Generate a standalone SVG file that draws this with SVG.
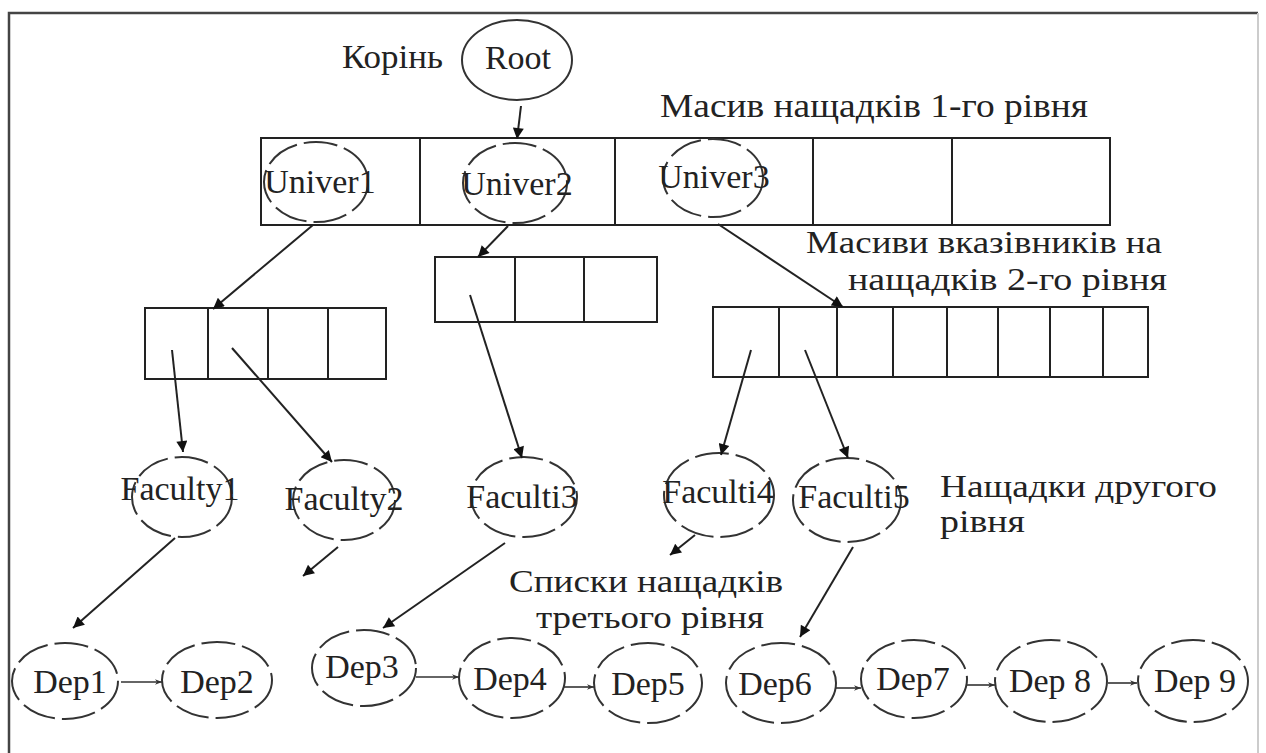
<svg xmlns="http://www.w3.org/2000/svg" width="1266" height="753" viewBox="0 0 1266 753">
<style>
text{font-family:"Liberation Serif","Times New Roman",serif;font-size:34px;fill:#222}
.lbl{text-anchor:middle}
.sm{font-size:31px}
.cell{fill:none;stroke:#222;stroke-width:2}
.solid{fill:none;stroke:#333;stroke-width:2}
.dash{fill:none;stroke:#333;stroke-width:2;stroke-dasharray:34 7}
.con{fill:none;stroke:#222;stroke-width:2;marker-end:url(#ah)}
.lnk{fill:none;stroke:#333;stroke-width:1.6;marker-end:url(#sh)}
</style>
<defs>
<marker id="ah" viewBox="0 0 10 10" refX="10" refY="5" markerWidth="14" markerHeight="11" markerUnits="userSpaceOnUse" orient="auto"><path d="M0,0 L10,5 L0,10 Z" fill="#111"/></marker>
<marker id="sh" viewBox="0 0 10 10" refX="10" refY="5" markerWidth="10" markerHeight="7" markerUnits="userSpaceOnUse" orient="auto"><path d="M0,1 L10,5 L0,9 L3,5 Z" fill="#333"/></marker>
</defs>
<rect width="1266" height="753" fill="#fff"/>
<path d="M9,753 V13 H1258" fill="none" stroke="#444" stroke-width="2.5"/>
<line x1="1258" y1="13" x2="1258" y2="753" stroke="#ccc" stroke-width="2"/>

<g id="labels">
<text x="342" y="68" textLength="101" lengthAdjust="spacingAndGlyphs">Корінь</text>
<text x="660" y="117" textLength="428" lengthAdjust="spacingAndGlyphs">Масив нащадків 1-го рівня</text>
<text class="sm" x="806" y="253" textLength="356" lengthAdjust="spacingAndGlyphs">Масиви вказівників на</text>
<text class="sm" x="848" y="290" textLength="319" lengthAdjust="spacingAndGlyphs">нащадків 2-го рівня</text>
<text class="sm" x="940" y="497" textLength="277" lengthAdjust="spacingAndGlyphs">Нащадки другого</text>
<text class="sm" x="940" y="532" textLength="85" lengthAdjust="spacingAndGlyphs">рівня</text>
<text class="sm" x="509" y="592" textLength="274" lengthAdjust="spacingAndGlyphs">Списки нащадків</text>
<text class="sm" x="536" y="628" textLength="228" lengthAdjust="spacingAndGlyphs">третього рівня</text>
</g>

<g id="root"><ellipse class="solid" cx="517" cy="60" rx="55" ry="40"/><text class="lbl" x="518" y="69">Root</text></g>

<g id="array1">
<rect class="cell" x="261" y="138" width="849" height="87"/>
<line class="cell" x1="420" y1="138" x2="420" y2="225"/>
<line class="cell" x1="615" y1="138" x2="615" y2="225"/>
<line class="cell" x1="813" y1="138" x2="813" y2="225"/>
<line class="cell" x1="952" y1="138" x2="952" y2="225"/>
</g>
<g id="univer1"><ellipse class="dash" cx="316" cy="182" rx="52" ry="40"/><text class="lbl" x="320" y="193">Univer1</text></g>
<g id="univer2"><ellipse class="dash" cx="515" cy="183" rx="52" ry="40"/><text class="lbl" x="517" y="195">Univer2</text></g>
<g id="univer3"><ellipse class="dash" cx="713" cy="178" rx="50" ry="39"/><text class="lbl" x="714" y="188">Univer3</text></g>

<g id="array2a">
<rect class="cell" x="145" y="308" width="241" height="71"/>
<line class="cell" x1="208" y1="308" x2="208" y2="379"/>
<line class="cell" x1="268" y1="308" x2="268" y2="379"/>
<line class="cell" x1="328" y1="308" x2="328" y2="379"/>
</g>
<g id="array2b">
<rect class="cell" x="435" y="257" width="222" height="65"/>
<line class="cell" x1="515" y1="257" x2="515" y2="322"/>
<line class="cell" x1="584" y1="257" x2="584" y2="322"/>
</g>
<g id="array2c">
<rect class="cell" x="713" y="307" width="435" height="70"/>
<line class="cell" x1="779" y1="307" x2="779" y2="377"/>
<line class="cell" x1="837" y1="307" x2="837" y2="377"/>
<line class="cell" x1="893" y1="307" x2="893" y2="377"/>
<line class="cell" x1="947" y1="307" x2="947" y2="377"/>
<line class="cell" x1="998" y1="307" x2="998" y2="377"/>
<line class="cell" x1="1050" y1="307" x2="1050" y2="377"/>
<line class="cell" x1="1103" y1="307" x2="1103" y2="377"/>
</g>

<g id="faculty1"><ellipse class="dash" cx="182" cy="497" rx="50" ry="40"/><text class="lbl" x="180" y="500">Faculty1</text></g>
<g id="faculty2"><ellipse class="dash" cx="344" cy="500" rx="51" ry="40"/><text class="lbl" x="344" y="510">Faculty2</text></g>
<g id="faculti3"><ellipse class="dash" cx="524" cy="497" rx="53" ry="40"/><text class="lbl" x="522" y="508">Faculti3</text></g>
<g id="faculti4"><ellipse class="dash" cx="719" cy="495" rx="55" ry="42"/><text class="lbl" x="718" y="503">Faculti4</text></g>
<g id="faculti5"><ellipse class="dash" cx="847" cy="500" rx="54" ry="42"/><text class="lbl" x="854" y="508">Faculti5</text></g>

<g id="dep1"><ellipse class="dash" cx="65" cy="681" rx="53" ry="38"/><text class="lbl" x="70" y="693">Dep1</text></g>
<g id="dep2"><ellipse class="dash" cx="217" cy="680" rx="55" ry="38"/><text class="lbl" x="217" y="693">Dep2</text></g>
<g id="dep3"><ellipse class="dash" cx="364" cy="668" rx="52" ry="38"/><text class="lbl" x="362" y="678">Dep3</text></g>
<g id="dep4"><ellipse class="dash" cx="512" cy="678" rx="53" ry="40"/><text class="lbl" x="510" y="690">Dep4</text></g>
<g id="dep5"><ellipse class="dash" cx="648" cy="683" rx="54" ry="40"/><text class="lbl" x="648" y="695">Dep5</text></g>
<g id="dep6"><ellipse class="dash" cx="781" cy="683" rx="55" ry="40"/><text class="lbl" x="775" y="695">Dep6</text></g>
<g id="dep7"><ellipse class="dash" cx="914" cy="679" rx="53" ry="39"/><text class="lbl" x="913" y="690">Dep7</text></g>
<g id="dep8"><ellipse class="dash" cx="1051" cy="681" rx="56" ry="41"/><text class="lbl" x="1050" y="692">Dep 8</text></g>
<g id="dep9"><ellipse class="dash" cx="1193" cy="681" rx="55" ry="41"/><text class="lbl" x="1195" y="692">Dep 9</text></g>

<g id="connectors">
<line class="con" x1="521" y1="106" x2="517" y2="139"/>
<line class="con" x1="313" y1="225" x2="213" y2="309"/>
<line class="con" x1="508" y1="226" x2="478" y2="257"/>
<line class="con" x1="718" y1="224" x2="843" y2="307"/>
<line class="con" x1="172" y1="350" x2="183" y2="452"/>
<line class="con" x1="232" y1="348" x2="332" y2="462"/>
<line class="con" x1="470" y1="295" x2="522" y2="458"/>
<line class="con" x1="751" y1="350" x2="721" y2="455"/>
<line class="con" x1="805" y1="350" x2="848" y2="458"/>
<line class="con" x1="175" y1="538" x2="73" y2="628"/>
<line class="con" x1="338" y1="547" x2="303" y2="576"/>
<line class="con" x1="505" y1="543" x2="383" y2="628"/>
<line class="con" x1="695" y1="535" x2="670" y2="555"/>
<line class="con" x1="853" y1="547" x2="800" y2="637"/>
<line class="lnk" x1="121" y1="682" x2="162" y2="682"/>
<line class="lnk" x1="416" y1="677" x2="459" y2="677"/>
<line class="lnk" x1="564" y1="687" x2="594" y2="687"/>
<line class="lnk" x1="836" y1="688" x2="861" y2="688"/>
<line class="lnk" x1="967" y1="685" x2="995" y2="685"/>
<line class="lnk" x1="1108" y1="683" x2="1137" y2="683"/>
</g>
</svg>
